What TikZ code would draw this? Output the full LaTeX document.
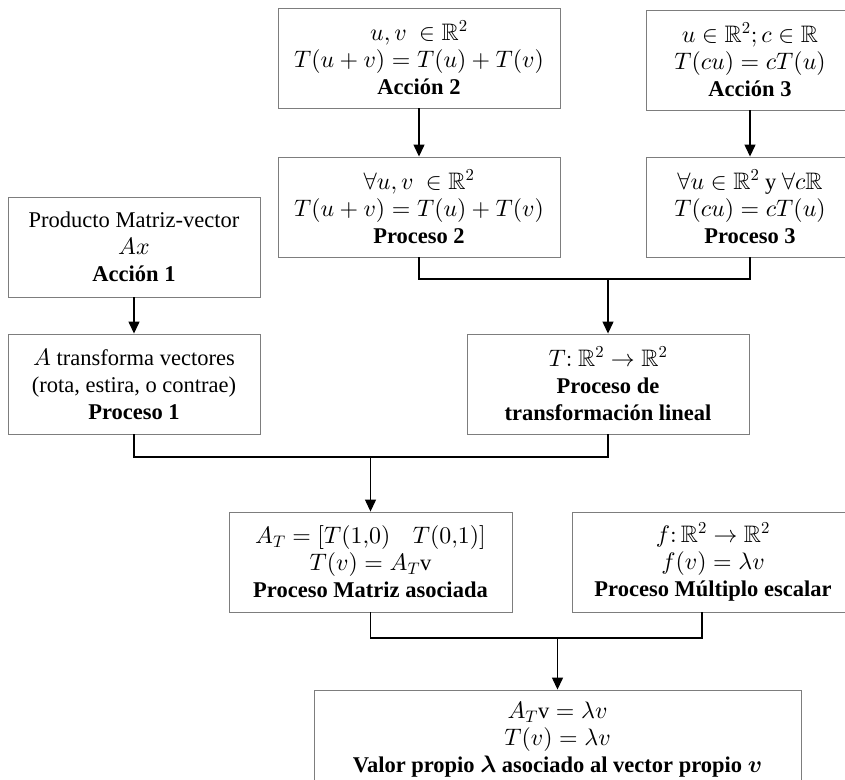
\documentclass[tikz,border=0pt]{standalone}
\usepackage{amsmath,amssymb}
\usepackage{fontspec}
\setmainfont{Liberation Serif}
% scalable, slightly widened math fonts
\DeclareFontShape{OML}{cmm}{m}{it}{<-> s*[1.06] cmmi10}{}
\DeclareFontShape{OML}{cmm}{b}{it}{<-> s*[1.06] cmmib10}{}
\DeclareFontShape{OMS}{cmsy}{m}{n}{<-> s*[1.06] cmsy10}{}
\DeclareFontShape{OMS}{cmsy}{b}{n}{<-> s*[1.06] cmbsy10}{}
\DeclareFontShape{OT1}{cmr}{m}{n}{<-> s*[1.06] cmr10}{}
\DeclareFontShape{OT1}{cmr}{bx}{n}{<-> s*[1.06] cmbx10}{}
\DeclareFontFamily{U}{msb}{}
\DeclareFontShape{U}{msb}{m}{n}{<-> s*[1.06] msbm10}{}
\usetikzlibrary{arrows.meta,calc}

\definecolor{boxgray}{RGB}{125,125,125}

\begin{document}
\begin{tikzpicture}[x=1pt,y=-1pt,
  box/.style={draw=boxgray, line width=0.9pt, rectangle, inner sep=0pt,
    minimum height=100pt, align=center,
    font=\fontsize{22.5}{27}\selectfont},
  link/.style={line width=1.3pt, black},
  arr/.style={link, -{Triangle[width=11pt,length=12pt]}}]

  % page frame (boxes on the right run past the edge)
  \clip (0,0) rectangle (845,779);
  \fill[white] (0,0) rectangle (845,779);

  % top rows: actions and processes 2 and 3
  \node[box, minimum width=282pt] (a2) at (419,58)
    {$u,v\ \in \mathbb{R}^2$\\ $T(u+v)=T(u)+T(v)$\\ \textbf{Acción 2}};
  \node[box, minimum width=208pt] (a3) at (750,60)
    {$u\in \mathbb{R}^2; c\in\mathbb{R}$\\ $T(cu)=cT(u)$\\ \textbf{Acción 3}};
  \node[box, minimum width=282pt] (p2) at (419,207)
    {$\forall u,v\ \in \mathbb{R}^2$\\ $T(u+v)=T(u)+T(v)$\\ \textbf{Proceso 2}};
  \node[box, minimum width=208pt] (p3) at (750,207)
    {$\forall u\in \mathbb{R}^2$ y $\forall c\mathbb{R}$\\ $T(cu)=cT(u)$\\ \textbf{Proceso 3}};

  % left column: action and process 1
  \node[box, minimum width=252pt] (a1) at (134,247)
    {Producto Matriz-vector\\ $Ax$\\ \textbf{Acción 1}};
  \node[box, minimum width=252pt] (p1) at (134,384)
    {$A$ transforma vectores\\ (rota, estira, o contrae)\\ \textbf{Proceso 1}};

  % linear transformation
  \node[box, minimum width=282pt] (ptl) at (608,384)
    {$T{:}\ \mathbb{R}^2\to\mathbb{R}^2$\\ \textbf{Proceso de}\\ \textbf{transformación lineal}};

  % associated matrix and scalar multiple
  \node[box, minimum width=283pt] (ma) at (370.5,562)
    {$A_T=[T(1{,}0)\quad T(0{,}1)]$\\ $T(v)=A_T\mathrm{v}$\\ \textbf{Proceso Matriz asociada}};
  \node[box, minimum width=282pt] (me) at (713,562)
    {$f{:}\,\mathbb{R}^2\to\mathbb{R}^2$\\ $f(v)=\lambda v$\\ \textbf{Proceso Múltiplo escalar}};

  % eigenvalue
  \node[box, minimum width=487pt] (fin) at (557.5,740)
    {$A_T\mathrm{v}=\lambda v$\\ $T(v)=\lambda v$\\ \textbf{Valor propio $\boldsymbol{\lambda}$ asociado al vector propio $\boldsymbol{v}$}};

  % connectors
  \draw[arr] (a2) -- (p2);
  \draw[arr] (a3) -- (p3);
  \draw[arr] (a1) -- (p1);

  \coordinate (j1) at (608,279);
  \draw[link] (p2.south) |- (j1) -| (p3.south);
  \draw[arr] (j1) -- (ptl.north);

  \coordinate (j2) at (370.5,457);
  \draw[link] (p1.south) |- (j2) -| (ptl.south);
  \draw[arr] (j2) -- (ma.north);

  \coordinate (j3) at (557.5,638);
  \coordinate (mefoot) at ($(me.south)+(-11,0)$);
  \draw[link] (ma.south) |- (j3) -| (mefoot);
  \draw[arr] (j3) -- (fin.north);
\end{tikzpicture}
\end{document}
